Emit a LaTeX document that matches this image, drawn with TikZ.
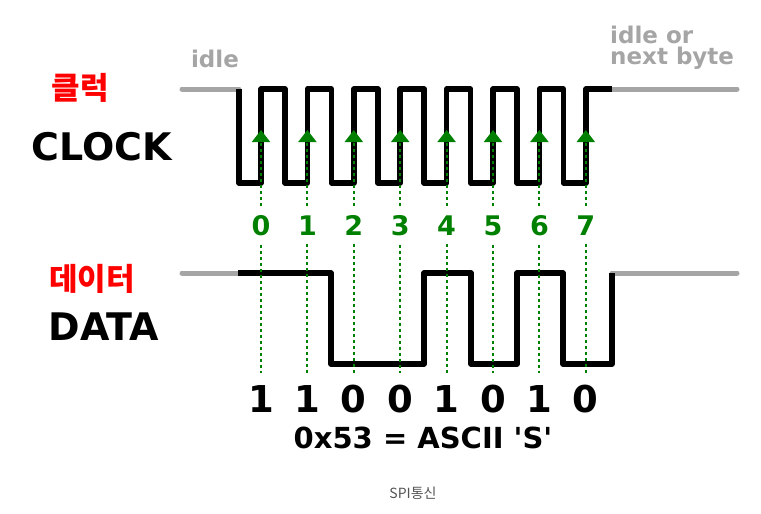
\documentclass[tikz,border=0pt]{standalone}
\usepackage{fontspec}
\newfontfamily\dv{DejaVu Sans}
\newfontfamily\kr{Noto Sans CJK KR}
\usetikzlibrary{arrows.meta}
\definecolor{bitgreen}{RGB}{0,128,0}
\definecolor{idlegray}{RGB}{165,165,165}
\definecolor{captgray}{RGB}{85,85,85}

\begin{document}
\begin{tikzpicture}[x=1pt,y=-1pt,line join=round,
  wave/.style={line width=5.5pt},
  idleline/.style={line width=5pt,idlegray,line cap=round},
  tick/.style={bitgreen,line width=2pt,dash pattern=on 3pt off 3pt}]
  \useasboundingbox (0,0) rectangle (761,514);
  % idle levels
  \draw[idleline] (182,89) -- (239,89);
  \draw[idleline] (612,89) -- (737,89);
  \draw[idleline] (182,273) -- (238,273);
  \draw[idleline] (612,273) -- (737,273);
  % clock
  \draw[wave] (239,89) -- (239,183) foreach \i in {0,...,6} {-- ({261+46.4*\i},183) -- ({261+46.4*\i},89) -- ({285+46.4*\i},89) -- ({285+46.4*\i},183)} -- (586,183) -- (586,89) -- (612,89);
  % data
  \draw[wave] (238,273) -- (331,273) -- (331,364) -- (424,364) -- (424,273) -- (471,273) -- (471,364) -- (517,364) -- (517,273) -- (563,273) -- (563,364) -- (612,364) -- (612,273);
  % sampling on rising edges
  \foreach \b [count=\i from 0] in {1,1,0,0,1,0,1,0} {
    \coordinate (t\i) at ({261+46.4*\i},130);
    \coordinate (e\i) at ({261+46.4*\i},373);
    \node[bitgreen,font=\dv\bfseries\fontsize{27}{27}\selectfont,anchor=base,inner ysep=9pt] (n\i) at ({261+46.4*\i},235) {\i};
    \node[font=\dv\bfseries\fontsize{37}{37}\selectfont,anchor=base] (b\i) at ({261+46.4*\i},412) {\b};
    \draw[tick,-{Triangle[width=18pt,length=12pt]}] (n\i) -- (t\i);
    \draw[tick] (n\i) -- (e\i);
  }
  % labels
  \node[red,font=\kr\bfseries\fontsize{31}{31}\selectfont] (clkkr) at (80,88) {클럭};
  \node[font=\dv\bfseries\fontsize{38}{38}\selectfont,anchor=base] (clk) at (102,160) {CLOCK};
  \node[red,font=\kr\bfseries\fontsize{31}{31}\selectfont] (datkr) at (92,279) {데이터};
  \node[font=\dv\bfseries\fontsize{38}{38}\selectfont,anchor=base] (dat) at (104,340) {DATA};
  \node[idlegray,font=\dv\bfseries\fontsize{23}{23}\selectfont,anchor=base] (idl) at (215,67) {idle};
  \node[idlegray,font=\dv\bfseries\fontsize{23}{23}\selectfont,anchor=base west,inner sep=0] (nxt1) at (610,43) {idle or};
  \node[idlegray,font=\dv\bfseries\fontsize{23}{23}\selectfont,anchor=base west,inner sep=0] (nxt2) at (610,64) {next byte};
  \node[font=\dv\bfseries\fontsize{29}{29}\selectfont,anchor=base] (hex) at (423,448) {0x53 = ASCII \textquotesingle S\textquotesingle};
  \node[captgray,font=\kr\fontsize{14}{14}\selectfont,anchor=base] (cap) at (413,498) {SPI통신};
\end{tikzpicture}
\end{document}
